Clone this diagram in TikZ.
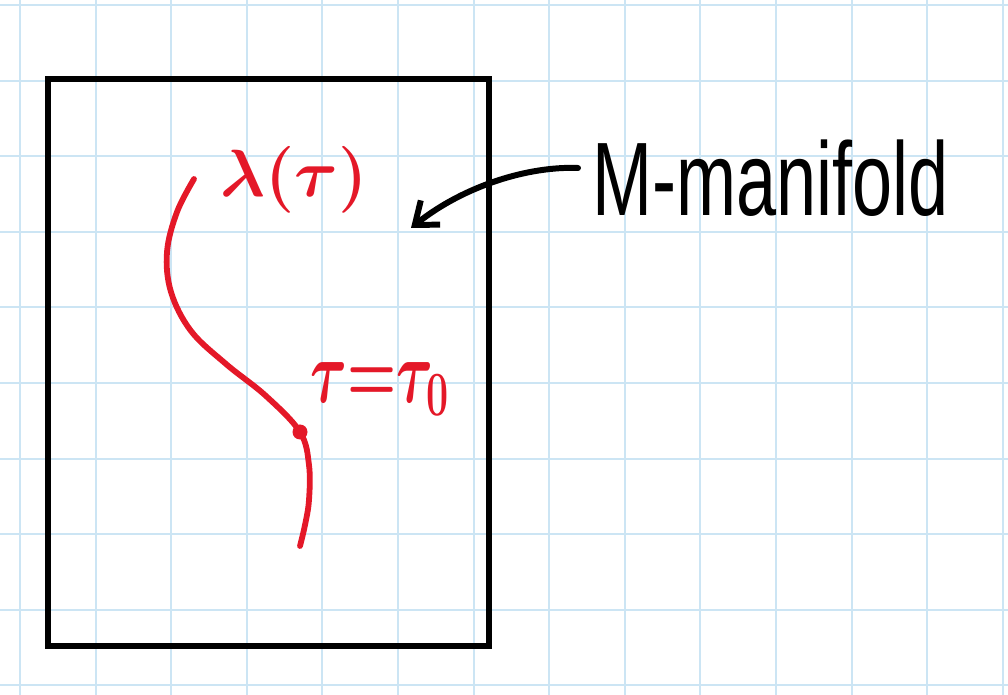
\RequirePackage{fix-cm}
\documentclass[tikz,border=0pt]{standalone}
\usepackage{amsmath}
\usepackage{fontspec}
\setsansfont{Liberation Sans}
\usetikzlibrary{arrows.meta,positioning}
\definecolor{gridblue}{RGB}{204,229,244}
\definecolor{penred}{RGB}{228,24,40}

\begin{document}
\begin{tikzpicture}[x=0.02cm,y=-0.02cm]
\tikzstyle{every node}+=[inner sep=0pt]
\tikzstyle{redpen}=[penred,line width=3.3pt,line cap=round,line join=round]
\tikzstyle{blackpen}=[black,line width=3.4pt,line cap=round,line join=round]
\useasboundingbox (0,0) rectangle (1008,695);
\fill [white] (0,0) rectangle (1008,695);
\foreach \i in {0,...,13}
  \draw [gridblue,line width=1.1pt] ({20+75.6*\i},0) -- ({20+75.6*\i},695);
\foreach \j in {0,...,9}
  \draw [gridblue,line width=1.1pt] (0,{5+75.6*\j}) -- (1008,{5+75.6*\j});
\draw [blackpen,line width=3pt,line cap=butt,line join=miter] (48,79) rectangle (489,646);
\draw [redpen] plot [smooth,tension=0.6] coordinates {(194,179) (177,212) (167,252) (171,292) (191,331) (226,364) (266,396) (300,432) (309,465) (309,500) (305,525) (300,546)};
\node [circle,fill=penred,minimum size=0.3cm] (t0) at (300,432) {};
\node [penred,font=\fontsize{38}{42}\selectfont\boldmath] (lam) at (294,180) {$\lambda(\tau)$};
\node [penred,font=\fontsize{32}{36}\selectfont\boldmath,above right=0.2cm and 0.1cm of t0,yscale=1.6,transform shape] (tlab) {$\tau{=}\tau_0$};
\node [font=\sffamily\fontsize{41}{45}\selectfont,anchor=west,yscale=1.45,transform shape] (mlab) at (592,178) {M-manifold};
\coordinate (mtip) at (411,228);
\draw [blackpen,-{Straight Barb[length=0.4cm,width=0.62cm]}] ([xshift=-0.28cm,yshift=0.2cm]mlab.west) .. controls (530,166) and (465,185) .. (mtip);
\end{tikzpicture}
\end{document}
